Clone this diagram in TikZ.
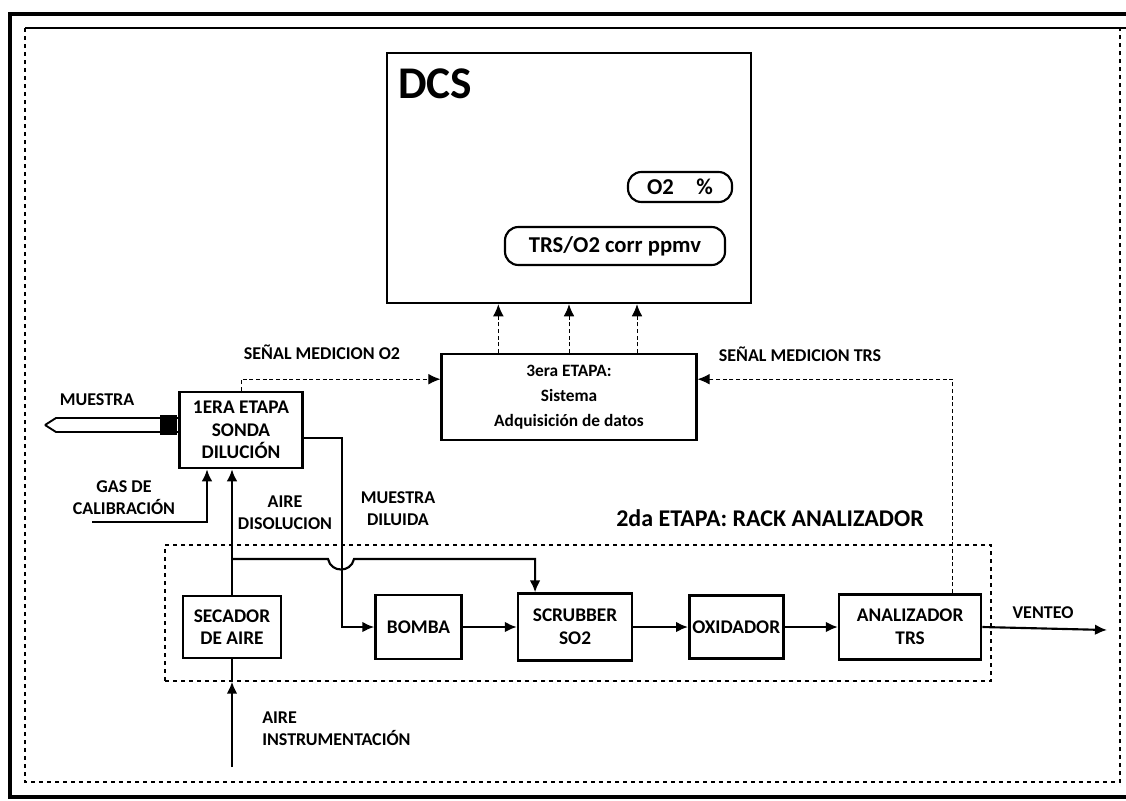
\documentclass[tikz,border=0pt]{standalone}
\usepackage{fontspec}
\setmainfont{Carlito}
\usetikzlibrary{arrows.meta,positioning}

\begin{document}
\begin{tikzpicture}[x=0.75pt, y=-0.75pt,
  box/.style={draw, line width=1.9pt, align=center, inner sep=1pt, font=\bfseries\fontsize{14.5}{17}\selectfont},
  pill/.style={draw, line width=1.6pt, rounded corners=10pt, inner sep=1pt, font=\bfseries\fontsize{17}{19}\selectfont},
  lbl/.style={align=center, inner sep=0pt, font=\bfseries\fontsize{13.5}{16.5}\selectfont},
  arrow/.style={-{Latex[length=9pt,width=8pt]}, line width=1.6pt},
  signal/.style={-{Latex[length=9pt,width=8pt]}, line width=0.7pt, densely dashed},
  rackline/.style={dashed, line width=0.9pt}
]
\useasboundingbox (0,0) rectangle (1126,800);
% frame
\draw[line width=2.6pt] (1126,14) -- (10,14) -- (10,797) -- (1126,797);
\draw[line width=1.5pt] (25,28) -- (1126,28);
\draw[rackline] (25,28) -- (25,782) -- (1120,782) -- (1120,28);

% DCS
\node[box, minimum width=273pt, minimum height=187.5pt] (dcs) at (569,178) {};
\node[anchor=north west, inner sep=0pt, font=\bfseries\fontsize{34}{34}\selectfont] (dcstitle) at (398,69) {DCS};
\node[pill, minimum width=78pt, minimum height=22.5pt] (o2) at (680,187) {O2\quad\%};
\node[pill, minimum width=165pt, minimum height=28.5pt] (trscorr) at (615,246) {TRS/O2 corr ppmv};

% etapas
\node[box, below=36.5pt of dcs, minimum width=191pt, minimum height=64.5pt, font=\bfseries\fontsize{13}{19}\selectfont] (adq) {3era ETAPA:\\Sistema\\Adquisición de datos};
\node[box, minimum width=92pt, minimum height=57pt] (sonda) at (241,430) {1ERA ETAPA\\SONDA\\DILUCIÓN};

% rack
\node[draw, rackline, minimum width=619.5pt, minimum height=102pt] (rack) at (578,613) {};
\node[box, minimum width=73.5pt, minimum height=46.5pt] (secador) at (232,627) {SECADOR\\DE AIRE};
\node[box, right=69pt of secador, minimum width=64.5pt, minimum height=48pt] (bomba) {BOMBA};
\node[box, right=40.5pt of bomba, minimum width=85.5pt, minimum height=50pt] (scrubber) {SCRUBBER\\SO2};
\node[box, right=41pt of scrubber, minimum width=70.5pt, minimum height=47pt] (oxidador) {OXIDADOR};
\node[box, right=40pt of oxidador, minimum width=106.5pt, minimum height=49pt] (analizador) {ANALIZADOR\\TRS};

% labels
\node[lbl] (o2sig) at (322,352) {SEÑAL MEDICION O2};
\node[lbl] (trssig) at (800,354) {SEÑAL MEDICION TRS};
\node[lbl] (muestra) at (97,400) {MUESTRA};
\node[lbl] (gas) at (124,498) {GAS DE\\CALIBRACIÓN};
\node[lbl] (airedis) at (285,513) {AIRE\\DISOLUCION};
\node[lbl] (diluida) at (398,509) {MUESTRA\\DILUIDA};
\node[lbl, font=\bfseries\fontsize{18}{20}\selectfont] (racklbl) at (770,518) {2da ETAPA: RACK ANALIZADOR};
\node[lbl] (venteo) at (1043,613) {VENTEO};
\node[lbl, align=left, anchor=west] (aireinst) at (262,729) {AIRE\\INSTRUMENTACIÓN};

\coordinate (probetip) at (45,425);
\coordinate (gasin) at (92,522);
\coordinate (junc) at (232,559);
\coordinate (ventout) at (1107,630);
\coordinate (airein) at (232,767);

% signals
\draw[signal] (adq.north) -- (dcs.south);
\draw[signal] ([xshift=-53pt]adq.north) -- ([xshift=-53pt]dcs.south);
\draw[signal] ([xshift=51pt]adq.north) -- ([xshift=51pt]dcs.south);
\draw[signal] (sonda.north) |- ([yshift=13.5pt]adq.west);
\draw[signal] ([xshift=32pt]analizador.north) |- ([yshift=13.5pt]adq.east);

% probe
\draw[line width=1.4pt] (probetip) -- ++(11,-7) -- ([yshift=9pt]sonda.west);
\draw[line width=1.4pt] (probetip) -- ++(11,7) -- ([yshift=-1.5pt]sonda.west);
\fill (160,415) rectangle (177,435);

% flows
\draw[arrow] (gasin) -| ([xshift=-25.5pt]sonda.south);
\draw[arrow] (secador.north) -- (secador.north |- sonda.south);
\draw[arrow] (junc) -- (328,559) .. controls (331,573) and (351,573) .. (354,559) -| ([xshift=-30pt]scrubber.north);
\draw[arrow] ([yshift=-6pt]sonda.east) -- ++(38,0) |- (bomba.west);
\draw[arrow] (bomba.east) -- (scrubber.west);
\draw[arrow] (scrubber.east) -- (oxidador.west);
\draw[arrow] (oxidador.east) -- (analizador.west);
\draw[arrow] (analizador.east) -- (ventout);
\draw[arrow] (airein) -- (airein |- rack.south);
\draw[line width=1.6pt] (airein |- rack.south) -- (secador.south);
\end{tikzpicture}
\end{document}
